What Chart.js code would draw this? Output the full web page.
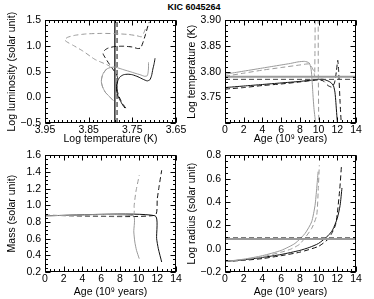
<!DOCTYPE html>
<html>
<head>
<meta charset="utf-8">
<script src="https://cdn.jsdelivr.net/npm/chart.js@4.4.0/dist/chart.umd.min.js"></script>
<style>
    body { margin: 0; background: #fff; }
    #wrap { position: relative; width: 374px; height: 299px; overflow: hidden; background: #fff; }
    canvas { position: absolute; }
    #title {
        position: absolute; left: 0; top: 2px; width: 388px; line-height: 10px;
        text-align: center; font: bold 9px "Liberation Sans", Arial, sans-serif; color: #000;
    }
</style>
</head>
<body>
<div id="wrap">
    <div id="title">KIC 6045264</div>
    <canvas id="hrChart" width="190" height="135" style="left:0px;top:10px"></canvas>
    <canvas id="teffChart" width="190" height="135" style="left:180px;top:10px"></canvas>
    <canvas id="massChart" width="190" height="153" style="left:0px;top:145px"></canvas>
    <canvas id="radiusChart" width="190" height="153" style="left:180px;top:145px"></canvas>
</div>
<script>
// ---- tick labels ----
const hrTempTicks = [3.65, 3.75, 3.85, 3.95];
const hrLumTicks = [-0.5, 0.0, 0.5, 1.0, 1.5];
const ageTicks = [0, 2, 4, 6, 8, 10, 12, 14];
const teffTicks = [3.75, 3.80, 3.85, 3.90];
const massTicks = [0.2, 0.4, 0.6, 0.8, 1.0, 1.2, 1.4, 1.6];
const radiusTicks = [-0.2, 0.0, 0.2, 0.4, 0.6, 0.8];

// ---- observed values (reference lines) ----
const obsTeff = 3.790;
const obsTeffLow = 3.785;
const obsRadius = 0.082;
const obsRadiusHigh = 0.093;

// ---- HR diagram tracks ----
const hrGraySolidTeff = [3.794, 3.803, 3.812, 3.818, 3.821, 3.820, 3.817, 3.809, 3.800, 3.790, 3.778, 3.767, 3.755, 3.744, 3.732, 3.722, 3.716, 3.714, 3.713, 3.713];
const hrGraySolidLum  = [-0.06, 0.02, 0.10, 0.20, 0.30, 0.38, 0.46, 0.55, 0.58, 0.59, 0.56, 0.53, 0.50, 0.47, 0.44, 0.41, 0.42, 0.48, 0.57, 0.68];
const hrGrayDashTeff = [3.794, 3.803, 3.812, 3.818, 3.821, 3.820, 3.817, 3.809, 3.801, 3.815, 3.836, 3.863, 3.885, 3.900, 3.905, 3.898, 3.880, 3.855, 3.820, 3.790, 3.760, 3.740, 3.729, 3.724, 3.720];
const hrGrayDashLum  = [-0.06, 0.02, 0.10, 0.20, 0.30, 0.38, 0.46, 0.55, 0.60, 0.66, 0.74, 0.90, 1.01, 1.08, 1.12, 1.17, 1.21, 1.235, 1.245, 1.24, 1.225, 1.20, 1.18, 1.25, 1.33];
const hrBlackSolidTeff = [3.767, 3.772, 3.778, 3.783, 3.786, 3.786, 3.783, 3.778, 3.770, 3.760, 3.750, 3.737, 3.725, 3.716, 3.710, 3.706, 3.703, 3.700, 3.698];
const hrBlackSolidLum  = [-0.21, -0.15, -0.06, 0.03, 0.12, 0.24, 0.33, 0.40, 0.44, 0.45, 0.44, 0.40, 0.35, 0.32, 0.34, 0.42, 0.55, 0.66, 0.76];
const hrBlackDashTeff = [3.765, 3.771, 3.777, 3.782, 3.785, 3.785, 3.783, 3.786, 3.793, 3.803, 3.812, 3.817, 3.813, 3.805, 3.790, 3.770, 3.750, 3.738, 3.731, 3.726, 3.720, 3.714, 3.711];
const hrBlackDashLum  = [-0.21, -0.14, -0.05, 0.05, 0.15, 0.25, 0.35, 0.44, 0.53, 0.65, 0.77, 0.85, 0.92, 0.96, 0.99, 0.995, 0.98, 0.95, 0.96, 1.06, 1.22, 1.40, 1.47];

// ---- temperature vs age ----
const teffGraySolidAge = [0, 1, 2, 3, 4, 5, 6, 7, 7.8, 8.5, 9.0, 9.2, 9.3, 9.4, 9.5, 9.6, 9.7];
const teffGraySolid    = [3.795, 3.798, 3.801, 3.804, 3.807, 3.810, 3.813, 3.816, 3.819, 3.820, 3.817, 3.805, 3.785, 3.755, 3.730, 3.713, 3.700];
const teffGrayDashAge = [0, 2, 4, 6, 8, 9.0, 9.3, 9.5, 9.58, 9.62, 9.68, 9.92, 9.97, 10.02];
const teffGrayDash    = [3.791, 3.797, 3.803, 3.808, 3.813, 3.815, 3.808, 3.800, 3.790, 3.850, 3.950, 3.950, 3.800, 3.700];
const teffBlackSolidAge = [0, 2, 4, 6, 8, 10, 10.5, 11.0, 11.3, 11.6, 11.75, 11.85, 11.95, 12.02];
const teffBlackSolid    = [3.769, 3.772, 3.775, 3.778, 3.781, 3.785, 3.785, 3.782, 3.779, 3.772, 3.760, 3.740, 3.715, 3.700];
const teffBlackDashAge = [0, 2, 4, 6, 8, 10, 10.5, 11.0, 11.4, 11.7, 11.9, 12.05, 12.15, 12.3, 12.42];
const teffBlackDash    = [3.766, 3.769, 3.773, 3.776, 3.780, 3.784, 3.782, 3.773, 3.770, 3.778, 3.800, 3.822, 3.800, 3.740, 3.700];

// ---- mass vs age ----
const massGraySolidAge = [0, 9.42, 9.49, 9.60, 9.78, 10.07];
const massGraySolid    = [0.875, 0.875, 0.68, 0.56, 0.46, 0.36];
const massGrayDashAge = [0, 9.42, 9.53, 9.71, 10.07];
const massGrayDash    = [0.88, 0.88, 1.00, 1.16, 1.36];
const massBlackSolidAge = [0, 11.75, 11.93, 12.11, 12.47];
const massBlackSolid    = [0.875, 0.875, 0.60, 0.48, 0.32];
const massBlackDashAge = [0, 11.75, 12.0, 12.21, 12.47];
const massBlackDash    = [0.88, 0.88, 1.08, 1.24, 1.42];

// ---- radius vs age ----
const radGraySolidAge = [0, 2, 4, 6, 7.48, 8.55, 9.26, 9.62, 9.8, 9.95];
const radGraySolid    = [-0.11, -0.09, -0.06, -0.015, 0.045, 0.13, 0.23, 0.37, 0.515, 0.66];
const radGrayDashAge = [0, 2, 4, 6, 7, 8.0, 9.26, 9.8, 9.97, 10.08];
const radGrayDash    = [-0.11, -0.095, -0.07, -0.03, -0.005, 0.04, 0.173, 0.287, 0.515, 0.715];
const radBlackSolidAge = [0, 2, 4, 6, 8, 9, 10, 11, 11.5, 12.0, 12.3, 12.5];
const radBlackSolid    = [-0.11, -0.095, -0.075, -0.05, -0.015, 0.01, 0.045, 0.11, 0.16, 0.26, 0.37, 0.52];
const radBlackDashAge = [0, 2, 4, 6, 8, 10, 11, 11.4, 11.8, 12.0, 12.27, 12.45];
const radBlackDash    = [-0.11, -0.10, -0.085, -0.06, -0.03, 0.02, 0.08, 0.13, 0.20, 0.30, 0.515, 0.715];

const GRAY = '#9a9a9a';
const BLACK = '#111';
const FONT = { family: '"Liberation Sans", Arial, sans-serif', size: 10.5 };

// inward ticks on all four sides + box, like the original plotting package
const idlFrame = {
    id: 'idlFrame',
    afterDatasetsDraw(chart, args, opts) {
        const { ctx, chartArea: a, scales: { x, y } } = chart;
        const L = Math.round(a.left) + 0.5, R = Math.round(a.right) - 0.5;
        const T = Math.round(a.top) + 0.5, B = Math.round(a.bottom) - 0.5;
        ctx.save();
        ctx.strokeStyle = '#000';
        ctx.lineWidth = 1;
        ctx.strokeRect(L, T, R - L, B - T);
        ctx.beginPath();
        const steps = (min, max, step) => {
            const out = [];
            for (let i = 0; min + i * step <= max + 1e-9; i++) out.push(min + i * step);
            return out;
        };
        const xMinor = steps(x.min, x.max, opts.xMinor);
        const yMinor = steps(y.min, y.max, opts.yMinor);
        const xTick = (v, len) => {
            const p = Math.round(x.getPixelForValue(v)) + 0.5;
            ctx.moveTo(p, B); ctx.lineTo(p, B - len);
            ctx.moveTo(p, T); ctx.lineTo(p, T + len);
        };
        const yTick = (v, len) => {
            const p = Math.round(y.getPixelForValue(v)) + 0.5;
            ctx.moveTo(L, p); ctx.lineTo(L + len, p);
            ctx.moveTo(R, p); ctx.lineTo(R - len, p);
        };
        xMinor.forEach(v => xTick(v, 2.5));
        yMinor.forEach(v => yTick(v, 2.5));
        opts.xMajor.forEach(v => xTick(v, 5));
        opts.yMajor.forEach(v => yTick(v, 5));
        ctx.stroke();
        ctx.restore();
    }
};

function toPoints(xs, ys) {
    return xs.map((v, i) => ({ x: v, y: ys[i] }));
}

function track(xs, ys, color, dashed) {
    return {
        data: toPoints(xs, ys),
        borderColor: color,
        borderWidth: 1,
        borderDash: dashed ? [5, 3] : [],
        pointRadius: 0,
        tension: 0.2,
        clip: 0
    };
}

function refLine(xs, ys, color, width, dashed) {
    return {
        data: toPoints(xs, ys),
        borderColor: color,
        borderWidth: width,
        borderDash: dashed ? [5, 3] : [],
        pointRadius: 0,
        tension: 0,
        clip: 0
    };
}

const minus = s => s.replace('-', '\u2212');

function makePanel(id, p) {
    new Chart(document.getElementById(id), {
        type: 'line',
        data: { datasets: p.datasets },
        options: {
            responsive: false,
            animation: false,
            devicePixelRatio: 1,
            layout: { padding: { top: 10, right: 14, left: 0, bottom: 0 } },
            plugins: {
                legend: { display: false },
                tooltip: { enabled: false },
                idlFrame: { xMajor: p.xMajor, yMajor: p.yMajor, xMinor: p.xMinor, yMinor: p.yMinor }
            },
            scales: {
                x: {
                    type: 'linear',
                    min: p.xMin, max: p.xMax,
                    reverse: !!p.xReverse,
                    afterBuildTicks: s => { s.ticks = p.xTicks.map(v => ({ value: v })); },
                    afterFit: s => { s.height = p.xH; },
                    grid: { display: false, drawTicks: false },
                    border: { display: false },
                    ticks: { padding: 1, color: '#000', font: FONT, autoSkip: false, maxRotation: 0, callback: p.xFmt },
                    title: { display: true, text: p.xTitle, color: '#000', font: FONT, padding: { top: 0, bottom: 0 } }
                },
                y: {
                    type: 'linear',
                    min: p.yMin, max: p.yMax,
                    afterBuildTicks: s => { s.ticks = p.yTicks.map(v => ({ value: v })); },
                    afterFit: s => { s.width = 45; },
                    grid: { display: false, drawTicks: false },
                    border: { display: false },
                    ticks: { padding: 4, color: '#000', font: FONT, autoSkip: false, callback: p.yFmt },
                    title: { display: true, text: p.yTitle, color: '#000', font: FONT, padding: { top: 6, bottom: 0 } }
                }
            }
        },
        plugins: [idlFrame]
    });
}

const ageFmt = v => String(v);
const ageTitle = 'Age (10\u2079 years)';

// HR diagram
makePanel('hrChart', {
    datasets: [
        track(hrGraySolidTeff, hrGraySolidLum, GRAY, false),
        track(hrGrayDashTeff, hrGrayDashLum, GRAY, true),
        track(hrBlackSolidTeff, hrBlackSolidLum, BLACK, false),
        track(hrBlackDashTeff, hrBlackDashLum, BLACK, true),
        refLine([obsTeff, obsTeff], [-0.5, 1.5], BLACK, 1.3, false),
        refLine([obsTeffLow, obsTeffLow], [-0.5, 1.5], BLACK, 1, true)
    ],
    xMin: 3.65, xMax: 3.95, xReverse: true, xTicks: hrTempTicks, xMajor: hrTempTicks, xMinor: 0.01,
    yMin: -0.5, yMax: 1.5, yTicks: hrLumTicks, yMajor: hrLumTicks, yMinor: 0.1,
    xFmt: v => v.toFixed(2), yFmt: v => minus(v.toFixed(1)),
    xTitle: 'Log temperature (K)', yTitle: 'Log luminosity (solar unit)', xH: 22
});

// temperature vs age
makePanel('teffChart', {
    datasets: [
        refLine([0, 14], [obsTeff, obsTeff], GRAY, 2, false),
        refLine([0, 14], [obsTeffLow, obsTeffLow], '#444', 1, true),
        track(teffGraySolidAge, teffGraySolid, GRAY, false),
        track(teffGrayDashAge, teffGrayDash, GRAY, true),
        track(teffBlackSolidAge, teffBlackSolid, BLACK, false),
        track(teffBlackDashAge, teffBlackDash, BLACK, true)
    ],
    xMin: 0, xMax: 14, xTicks: ageTicks, xMajor: ageTicks, xMinor: 0.5,
    yMin: 3.70, yMax: 3.90, yTicks: teffTicks, yMajor: [3.70].concat(teffTicks), yMinor: 0.01,
    xFmt: ageFmt, yFmt: v => v.toFixed(2),
    xTitle: ageTitle, yTitle: 'Log temperature (K)', xH: 22
});

// mass vs age
makePanel('massChart', {
    datasets: [
        track(massGraySolidAge, massGraySolid, GRAY, false),
        track(massGrayDashAge, massGrayDash, GRAY, true),
        track(massBlackSolidAge, massBlackSolid, BLACK, false),
        track(massBlackDashAge, massBlackDash, BLACK, true)
    ],
    xMin: 0, xMax: 14, xTicks: ageTicks, xMajor: ageTicks, xMinor: 0.5,
    yMin: 0.2, yMax: 1.6, yTicks: massTicks, yMajor: massTicks, yMinor: 0.05,
    xFmt: ageFmt, yFmt: v => v.toFixed(1),
    xTitle: ageTitle, yTitle: 'Mass (solar unit)', xH: 26
});

// radius vs age
makePanel('radiusChart', {
    datasets: [
        refLine([0, 14], [obsRadius, obsRadius], GRAY, 2, false),
        refLine([0, 14], [obsRadiusHigh, obsRadiusHigh], '#444', 1, true),
        track(radGraySolidAge, radGraySolid, GRAY, false),
        track(radGrayDashAge, radGrayDash, GRAY, true),
        track(radBlackSolidAge, radBlackSolid, BLACK, false),
        track(radBlackDashAge, radBlackDash, BLACK, true)
    ],
    xMin: 0, xMax: 14, xTicks: ageTicks, xMajor: ageTicks, xMinor: 0.5,
    yMin: -0.2, yMax: 0.8, yTicks: radiusTicks, yMajor: radiusTicks, yMinor: 0.05,
    xFmt: ageFmt, yFmt: v => minus(v.toFixed(1)),
    xTitle: ageTitle, yTitle: 'Log radius (solar unit)', xH: 26
});
</script>
</body>
</html>
